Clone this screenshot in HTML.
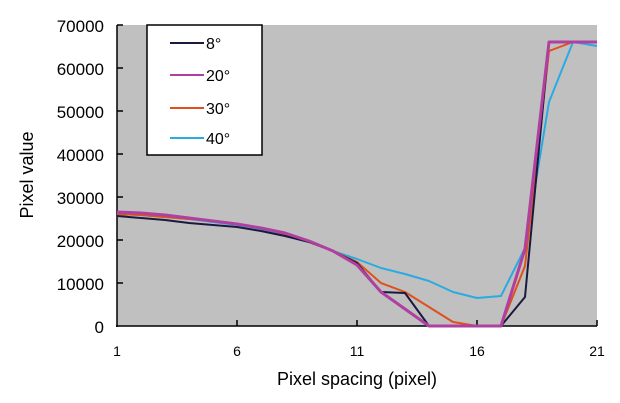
<!DOCTYPE html>
<html><head><meta charset="utf-8"><style>body{margin:0;background:#fff}svg{display:block;font-family:"Liberation Sans",sans-serif}</style></head><body>
<svg width="620" height="403" viewBox="0 0 620 403">
<rect x="117" y="25" width="480" height="301" fill="#c0c0c0"/>
<g stroke="#000" stroke-width="1.5" fill="none">
<line x1="117" y1="25" x2="117" y2="327"/>
<line x1="116" y1="326" x2="597" y2="326"/>
<line x1="117" y1="25" x2="123" y2="25"/><line x1="117" y1="68" x2="123" y2="68"/><line x1="117" y1="111" x2="123" y2="111"/><line x1="117" y1="154" x2="123" y2="154"/><line x1="117" y1="197" x2="123" y2="197"/><line x1="117" y1="240" x2="123" y2="240"/><line x1="117" y1="283" x2="123" y2="283"/>
<line x1="237" y1="320" x2="237" y2="326"/><line x1="357" y1="320" x2="357" y2="326"/><line x1="477" y1="320" x2="477" y2="326"/><line x1="597" y1="320" x2="597" y2="326"/>
</g>
<g font-size="17" fill="#000" text-anchor="end">
<text x="104" y="32">70000</text><text x="104" y="75">60000</text><text x="104" y="118">50000</text><text x="104" y="161">40000</text><text x="104" y="204">30000</text><text x="104" y="247">20000</text><text x="104" y="290">10000</text><text x="104" y="333">0</text>
</g>
<g font-size="14" text-anchor="middle"><text x="117" y="356">1</text><text x="237" y="356">6</text><text x="357" y="356">11</text><text x="477" y="356">16</text><text x="597" y="356">21</text></g>
<text x="357" y="385" font-size="18" text-anchor="middle">Pixel spacing (pixel)</text>
<text transform="translate(33,175) rotate(-90)" font-size="18" text-anchor="middle">Pixel value</text>
<g fill="none" stroke-width="2" stroke-linejoin="round">
<polyline stroke="#29abe2" points="117,214 141,215 165,217 189,219 213,222 237,225 261,229 285,235 309,242 333,251 357,259 381,268 405,274 429,281 453,292 477,298 501,296 525,248 549,102 573,42 597,46"/>
<polyline stroke="#e0501a" points="117,214 141,215 165,217 189,219 213,221 237,224 261,228 285,234 309,242 333,251 357,262 381,283 405,292 429,307 453,322 477,326 501,326 525,266 549,51 573,42 597,42"/>
<polyline stroke="#1a1a40" points="117,216 141,218 165,220 189,223 213,225 237,227 261,231 285,236 309,242 333,251 357,263 381,292 405,293 429,326 453,326 477,326 501,326 525,297 549,42 573,42 597,42"/>
<polyline stroke="#b040a0" stroke-width="3" points="117,212 141,213 165,215 189,218 213,221 237,224 261,228 285,233 309,241 333,251 357,265 381,292 405,309 429,326 453,326 477,326 501,326 525,249 549,42 573,42 597,42"/>
</g>
<rect x="147" y="25" width="115" height="130" fill="#fff" stroke="#000" stroke-width="1.5"/>
<g stroke-width="2"><line x1="170" y1="43" x2="204" y2="43" stroke="#1a1a40"/><line x1="170" y1="75" x2="204" y2="75" stroke="#b040a0"/><line x1="170" y1="108" x2="204" y2="108" stroke="#e0501a"/><line x1="170" y1="138" x2="204" y2="138" stroke="#29abe2"/></g>
<g font-size="16"><text x="206" y="49">8°</text><text x="206" y="81">20°</text><text x="206" y="114">30°</text><text x="206" y="144">40°</text></g>
</svg>
</body></html>
